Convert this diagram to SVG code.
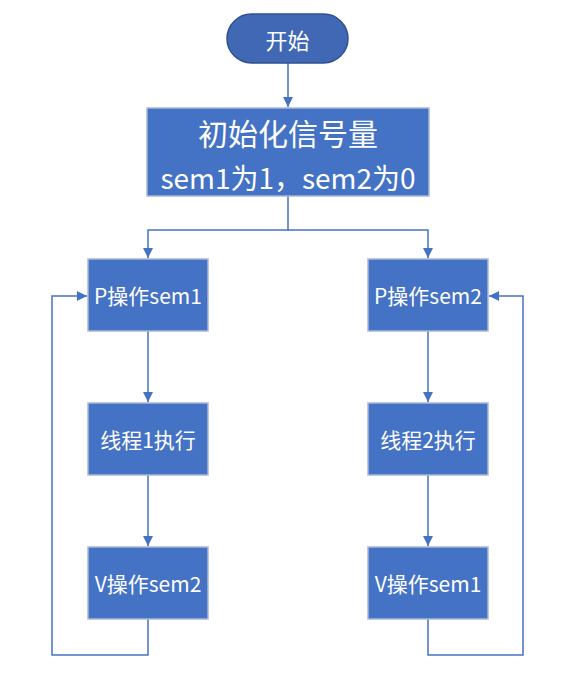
<svg xmlns="http://www.w3.org/2000/svg" width="565" height="683" viewBox="0 0 565 683">
<style>
.box{fill:#4472C4;stroke:#A9B8D6;stroke-width:1.5}
.term{fill:#4068B4;stroke:#2F528F;stroke-width:1.5}
.t{fill:#fff;font-family:"Noto Sans CJK SC","Noto Sans",sans-serif;text-anchor:middle;dominant-baseline:central}
.c{fill:none;stroke:#4472C4;stroke-width:1.5}
</style>
<defs>
<marker id="ah" viewBox="0 0 10 10" refX="10" refY="5" markerWidth="10" markerHeight="10" markerUnits="userSpaceOnUse" orient="auto">
<path d="M0,0 L10,5 L0,10 z" fill="#4472C4"/>
</marker>
</defs>
<rect width="565" height="683" fill="#fff"/>
<g id="connectors">
<path class="c" d="M288,63 V107" marker-end="url(#ah)"/>
<path class="c" d="M288,196 V230 H148 V258" marker-end="url(#ah)"/>
<path class="c" d="M288,230 H428 V258" marker-end="url(#ah)"/>
<path class="c" d="M148,331 V402" marker-end="url(#ah)"/>
<path class="c" d="M428,331 V402" marker-end="url(#ah)"/>
<path class="c" d="M148,475 V546" marker-end="url(#ah)"/>
<path class="c" d="M428,475 V546" marker-end="url(#ah)"/>
<path class="c" d="M148,619 V655 H52 V296 H87" marker-end="url(#ah)"/>
<path class="c" d="M428,619 V655 H523 V296 H489" marker-end="url(#ah)"/>
</g>
<g id="start">
<rect class="term" x="227" y="14" width="121" height="49" rx="24.5"/>
<text class="t" x="287.5" y="39" font-size="22">开始</text>
</g>
<g id="init">
<rect class="box" x="147" y="108" width="282" height="88"/>
<text class="t" x="288" y="132" font-size="30">初始化信号量</text>
<text class="t" x="288" y="177" font-size="28">sem1为1，sem2为0</text>
</g>
<g id="p1">
<rect class="box" x="88" y="259" width="120" height="72"/>
<text class="t" x="148" y="295" font-size="21">P操作sem1</text>
</g>
<g id="p2">
<rect class="box" x="368" y="259" width="120" height="72"/>
<text class="t" x="428" y="295" font-size="21">P操作sem2</text>
</g>
<g id="t1">
<rect class="box" x="88" y="403" width="120" height="72"/>
<text class="t" x="148" y="439" font-size="21">线程1执行</text>
</g>
<g id="t2">
<rect class="box" x="368" y="403" width="120" height="72"/>
<text class="t" x="428" y="439" font-size="21">线程2执行</text>
</g>
<g id="v1">
<rect class="box" x="88" y="547" width="120" height="72"/>
<text class="t" x="148" y="583" font-size="21">V操作sem2</text>
</g>
<g id="v2">
<rect class="box" x="368" y="547" width="120" height="72"/>
<text class="t" x="428" y="583" font-size="21">V操作sem1</text>
</g>
</svg>
